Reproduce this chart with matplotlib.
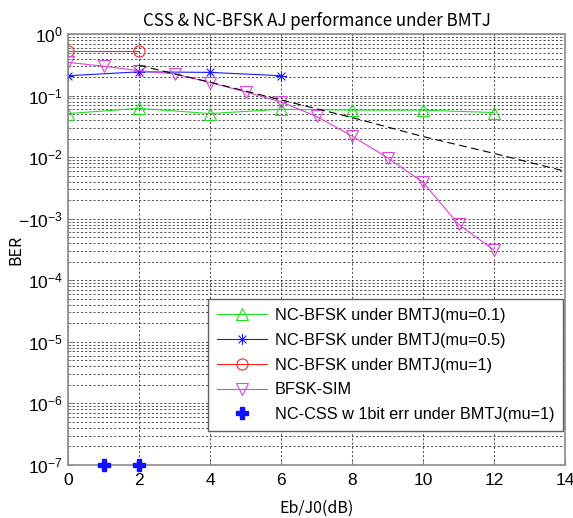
import numpy as np
import matplotlib
matplotlib.use('Agg')
import matplotlib.pyplot as plt
from matplotlib.path import Path
from matplotlib.ticker import FixedLocator, FixedFormatter, LogLocator, NullFormatter

plt.rcParams['font.family'] = ['Liberation Sans', 'DejaVu Sans']
plt.rcParams['mathtext.fontset'] = 'custom'
plt.rcParams['mathtext.rm'] = 'Liberation Sans'
plt.rcParams['mathtext.it'] = 'Liberation Sans'

# NC-BFSK, mu = 0.1
ebj0_mu01 = [0, 2, 4, 6, 8, 10, 12]
ber_mu01 = [0.051, 0.062, 0.051, 0.060, 0.058, 0.058, 0.053]

# NC-BFSK, mu = 0.5
ebj0_mu05 = [0, 2, 4, 6]
ber_mu05 = [0.21, 0.243, 0.238, 0.21]

# NC-BFSK, mu = 1
ebj0_mu1 = [0, 2]
ber_mu1 = [0.52, 0.52]

# BFSK simulation
ebj0_sim = [0, 1, 2, 3, 4, 5, 6, 7, 8, 9, 10, 11, 12]
ber_sim = [0.346, 0.30, 0.253, 0.225, 0.163, 0.115, 0.079, 0.046,
           0.022, 0.0098, 0.0039, 0.00081, 0.00031]

# dashed reference curve
ebj0_ref = [2, 4, 6, 8, 10, 12, 14]
ber_ref = [0.31, 0.165, 0.085, 0.044, 0.0216, 0.0115, 0.0059]

# NC-CSS with 1 bit error
ebj0_css = [1, 2]
ber_css = [1e-7, 1e-7]

labels = ['NC-BFSK under BMTJ(mu=0.1)', 'NC-BFSK under BMTJ(mu=0.5)',
          'NC-BFSK under BMTJ(mu=1)', 'BFSK-SIM',
          'NC-CSS w 1bit err under BMTJ(mu=1)']
xticks = [0, 2, 4, 6, 8, 10, 12, 14]
yticks = [1e-7, 1e-6, 1e-5, 1e-4, 1e-3, 1e-2, 1e-1, 1e0]
ytick_labels = [r'$10^{-7}$', r'$10^{-6}$', r'$10^{-5}$', r'$10^{-4}$',
                r'$-10^{-3}$', r'$10^{-2}$', r'$10^{-1}$', r'$10^{0}$']

# matlab style asterisk: + and x together
d = 0.7071
asterisk = Path([(-1, 0), (1, 0), (0, -1), (0, 1), (-d, -d), (d, d), (-d, d), (d, -d)],
                [Path.MOVETO, Path.LINETO] * 4)

fig = plt.figure(figsize=(5.73, 5.18), dpi=100)
ax = fig.add_axes([68/573, 1-465/518, 497/573, 431/518])

l1, = ax.plot(ebj0_mu01, ber_mu01, '-^', color='#1ee01e', lw=0.8, ms=9,
              mfc='none', mew=0.8, label=labels[0])
l2, = ax.plot(ebj0_mu05, ber_mu05, '-', marker=asterisk, color='#1a1aff', lw=0.8, ms=8,
              mfc='none', mew=0.8, label=labels[1])
l3, = ax.plot(ebj0_mu1, ber_mu1, '-o', color='#ff2020', lw=0.8, ms=8,
              mfc='none', mew=0.8, label=labels[2])
l4, = ax.plot(ebj0_sim, ber_sim, '-v', color='#e040e0', lw=0.8, ms=9,
              mfc='none', mew=0.8, label=labels[3])
ax.plot(ebj0_ref, ber_ref, '--', color='black', lw=0.8, dashes=(7, 4))
l5, = ax.plot(ebj0_css, ber_css, 'P', color='#1010ff', ms=9, ls='none',
              clip_on=False, zorder=5, label=labels[4])

ax.set_yscale('log')
ax.set_xlim(0, 14)
ax.set_ylim(1e-7, 1)
ax.xaxis.set_major_locator(FixedLocator(xticks))
ax.yaxis.set_major_locator(FixedLocator(yticks))
ax.yaxis.set_major_formatter(FixedFormatter(ytick_labels))
ax.yaxis.set_minor_locator(LogLocator(base=10, subs=np.arange(2, 10), numticks=20))
ax.yaxis.set_minor_formatter(NullFormatter())

ax.grid(True, which='major', color='#303030', lw=0.6, ls=(0, (2.5, 2.5)))
ax.grid(True, which='minor', axis='y', color='#303030', lw=0.6, ls=(0, (2.5, 2.5)))
ax.tick_params(which='both', direction='in', labelsize=12.5, color='#808080')
ax.tick_params(axis='x', pad=6)
for s in ax.spines.values():
    s.set_color('#8c8c8c')
    s.set_linewidth(1.2)

tfont = ['Noto Sans CJK KR', 'DejaVu Sans']
ax.set_title('CSS & NC-BFSK AJ performance under BMTJ', family=tfont,
             fontsize=12.2, pad=6)
ax.set_xlabel('Eb/J0(dB)', family=tfont, fontsize=11.5, labelpad=8)
ax.set_ylabel('BER', family=tfont, fontsize=11.5)
ax.yaxis.set_label_coords(-44/497, 0.5)

leg = ax.legend(handles=[l1, l2, l3, l4, l5], loc='lower right',
                bbox_to_anchor=(0.996, 0.079), fontsize=11.7, frameon=True,
                fancybox=False, edgecolor='#606060', framealpha=1,
                handlelength=3.1, labelspacing=0.6, borderpad=0.55,
                handletextpad=0.45, borderaxespad=0)
leg.get_frame().set_linewidth(1.0)

fig.savefig('out.png', dpi=100)
